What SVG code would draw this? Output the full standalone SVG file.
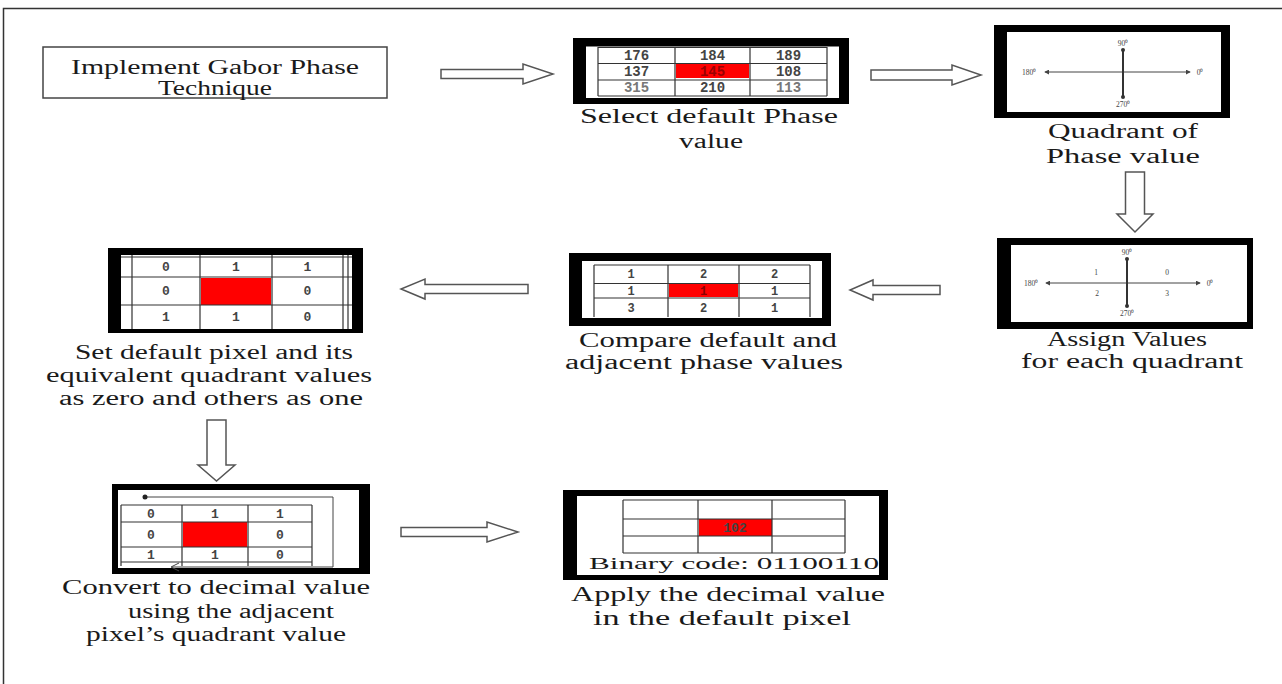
<svg xmlns="http://www.w3.org/2000/svg" width="1282" height="684" viewBox="0 0 1282 684">
<defs>
<style>
.blk{fill:#000}
.wht{fill:#fff}
.grid{stroke:#333;stroke-width:1.2;fill:none}
.lbl{font-family:"Liberation Serif",serif;font-size:20px;fill:#1a1a1a;text-anchor:middle}
.num{font-family:"Liberation Mono",monospace;font-weight:bold;font-size:13px;fill:#444;text-anchor:middle}
.arrow{fill:#fff;stroke:#555;stroke-width:1.5;stroke-linejoin:miter}
.ax{stroke:#444;stroke-width:1;fill:none}
.axv{stroke:#333;stroke-width:2;fill:none}
.axt{font-family:"Liberation Serif",serif;font-size:7.5px;fill:#444;text-anchor:middle}
.red{fill:#f00}
</style>
<marker id="ah" viewBox="0 0 6 6" refX="5" refY="3" markerWidth="5" markerHeight="5" orient="auto-start-reverse"><path d="M0,0 L6,3 L0,6 Z" fill="#444"/></marker>
<marker id="dot" viewBox="0 0 6 6" refX="3" refY="3" markerWidth="2" markerHeight="2"><circle cx="3" cy="3" r="3" fill="#333"/></marker>
</defs>
<rect width="1282" height="684" fill="#fff"/>
<path d="M3.5,684 L3.5,8.5 L1282,8.5" fill="none" stroke="#333" stroke-width="1.5"/>

<g id="connectors">
<path class="arrow" d="M441,69.5 L523,69.5 L523,64 L553,74 L523,84 L523,78.5 L441,78.5 Z"/>
<path class="arrow" d="M871,70 L952,70 L952,65 L981,75 L952,85 L952,80 L871,80 Z"/>
<path class="arrow" d="M1125.5,172 L1144.5,172 L1144.5,214 L1153,214 L1135,232 L1117,214 L1125.5,214 Z"/>
<path class="arrow" d="M940,285.5 L873,285.5 L873,280 L850,290 L873,300 L873,294.5 L940,294.5 Z"/>
<path class="arrow" d="M528,284.5 L425,284.5 L425,279 L401,289 L425,299 L425,293.5 L528,293.5 Z"/>
<path class="arrow" d="M207,420 L226,420 L226,465 L235,465 L216.5,481 L198,465 L207,465 Z"/>
<path class="arrow" d="M401,527.5 L487,527.5 L487,522 L518,532 L487,542 L487,536.5 L401,536.5 Z"/>
</g>

<g id="n1">
<rect x="43" y="47" width="344" height="51" fill="#fff" stroke="#444" stroke-width="1.5"/>
<text class="lbl" x="215" y="74" textLength="288" lengthAdjust="spacingAndGlyphs">Implement Gabor Phase</text>
<text class="lbl" x="215" y="95" textLength="114" lengthAdjust="spacingAndGlyphs">Technique</text>
</g>

<g id="n2">
<rect class="blk" x="573" y="38" width="276" height="66"/>
<rect class="wht" x="586" y="46.5" width="253" height="51.5"/>
<rect class="red" x="676" y="64" width="73" height="14"/>
<path class="grid" d="M598,47.5H827M598,63.5H827M598,80H827M598,96H827M598,47V96M675,47V96M750,47V96M827,47V96"/>
<g class="num" style="font-size:14px">
<text x="636.5" y="60">176</text><text x="712.5" y="60">184</text><text x="788.5" y="60">189</text>
<text x="636.5" y="76">137</text><text x="712.5" y="76" fill="#900">145</text><text x="788.5" y="76">108</text>
<text x="636.5" y="92" fill="#777">315</text><text x="712.5" y="92">210</text><text x="788.5" y="92" fill="#777">113</text>
</g>
<text class="lbl" x="709" y="123" textLength="258" lengthAdjust="spacingAndGlyphs">Select default Phase</text>
<text class="lbl" x="711" y="148" textLength="64" lengthAdjust="spacingAndGlyphs">value</text>
</g>

<g id="n3">
<rect class="blk" x="994" y="25" width="236" height="93"/>
<rect class="wht" x="1007" y="32" width="214" height="80"/>
<line class="ax" x1="1045" y1="72" x2="1190" y2="72" marker-start="url(#ah)" marker-end="url(#ah)"/>
<line class="axv" x1="1123" y1="50" x2="1123" y2="97" marker-start="url(#dot)" marker-end="url(#dot)"/>
<text class="axt" x="1123" y="46">90⁰</text>
<text class="axt" x="1029" y="74.5">180⁰</text>
<text class="axt" x="1200" y="74.5">0⁰</text>
<text class="axt" x="1123" y="107">270⁰</text>
<text class="lbl" x="1123" y="138" textLength="150" lengthAdjust="spacingAndGlyphs">Quadrant of</text>
<text class="lbl" x="1123" y="163" textLength="154" lengthAdjust="spacingAndGlyphs">Phase value</text>
</g>

<g id="n4">
<rect class="blk" x="997" y="238" width="256" height="91"/>
<rect class="wht" x="1011" y="245" width="236" height="77"/>
<line class="ax" x1="1046" y1="283" x2="1200" y2="283" marker-start="url(#ah)" marker-end="url(#ah)"/>
<line class="axv" x1="1127" y1="259" x2="1127" y2="306" marker-start="url(#dot)" marker-end="url(#dot)"/>
<text class="axt" x="1127" y="255">90⁰</text>
<text class="axt" x="1031" y="285.5">180⁰</text>
<text class="axt" x="1210" y="285.5">0⁰</text>
<text class="axt" x="1127" y="316">270⁰</text>
<text class="axt" x="1096" y="274.5">1</text>
<text class="axt" x="1167" y="274.5">0</text>
<text class="axt" x="1097" y="295.5">2</text>
<text class="axt" x="1167" y="295.5">3</text>
<text class="lbl" x="1127" y="346" textLength="160" lengthAdjust="spacingAndGlyphs">Assign Values</text>
<text class="lbl" x="1132" y="368" textLength="222" lengthAdjust="spacingAndGlyphs">for each quadrant</text>
</g>

<g id="n5">
<rect class="blk" x="569" y="253" width="262" height="73"/>
<rect class="wht" x="582" y="261" width="240" height="57"/>
<rect class="red" x="669" y="284" width="69" height="13"/>
<path class="grid" d="M594,265H810M594,283.5H810M594,298H810M594,265V317M668,265V317M739,265V317M810,265V317"/>
<g class="num" style="font-size:12px">
<text x="631" y="278">1</text><text x="703.5" y="278">2</text><text x="774.5" y="278">2</text>
<text x="631" y="295">1</text><text x="703.5" y="295" fill="#800">1</text><text x="774.5" y="295">1</text>
<text x="631" y="312">3</text><text x="703.5" y="312">2</text><text x="774.5" y="312">1</text>
</g>
<text class="lbl" x="708" y="347" textLength="258" lengthAdjust="spacingAndGlyphs">Compare default and</text>
<text class="lbl" x="704" y="369" textLength="278" lengthAdjust="spacingAndGlyphs">adjacent phase values</text>
</g>

<g id="n6">
<rect class="blk" x="108" y="248" width="255" height="85"/>
<rect class="wht" x="121" y="255" width="231" height="74"/>
<rect class="red" x="201" y="278" width="70" height="27"/>
<path class="grid" d="M121,257H352M121,277H352M121,305H352M132,255V329M200,255V329M272,255V329M343,255V329M348,255V329"/>
<g class="num">
<text x="166" y="271">0</text><text x="236" y="271">1</text><text x="307.5" y="271">1</text>
<text x="166" y="295">0</text><text x="307.5" y="295">0</text>
<text x="166" y="321">1</text><text x="236" y="321">1</text><text x="307.5" y="321">0</text>
</g>
<text class="lbl" x="214" y="359" textLength="278" lengthAdjust="spacingAndGlyphs">Set default pixel and its</text>
<text class="lbl" x="209" y="382" textLength="326" lengthAdjust="spacingAndGlyphs">equivalent quadrant values</text>
<text class="lbl" x="211" y="405" textLength="304" lengthAdjust="spacingAndGlyphs">as zero and others as one</text>
</g>

<g id="n7">
<rect class="blk" x="112" y="484" width="258" height="90"/>
<rect class="wht" x="118" y="490" width="241" height="78"/>
<rect class="red" x="183" y="522" width="64" height="25"/>
<path class="grid" d="M121,505H312M121,522H312M121,547H312M121,562H312M121,505V566M182,505V566M248,505V566M312,505V566"/>
<path d="M145,497H333V567H172" fill="none" stroke="#444" stroke-width="1"/>
<circle cx="145" cy="497" r="2.5" fill="#222"/>
<path d="M179,563 L171,567 L179,571" fill="none" stroke="#444" stroke-width="1"/>
<g class="num">
<text x="151" y="518">0</text><text x="215" y="518">1</text><text x="280" y="518">1</text>
<text x="151" y="539">0</text><text x="280" y="539">0</text>
<text x="151" y="559">1</text><text x="215" y="559">1</text><text x="280" y="559">0</text>
</g>
<text class="lbl" x="216" y="594" textLength="308" lengthAdjust="spacingAndGlyphs">Convert to decimal value</text>
<text class="lbl" x="231" y="618" textLength="206" lengthAdjust="spacingAndGlyphs">using the adjacent</text>
<text class="lbl" x="216" y="641" textLength="260" lengthAdjust="spacingAndGlyphs">pixel’s quadrant value</text>
</g>

<g id="n8">
<rect class="blk" x="563" y="490" width="325" height="90"/>
<rect class="wht" x="577" y="496" width="302" height="79"/>
<rect class="red" x="699" y="519" width="73" height="17"/>
<path class="grid" d="M623,500H845M623,519H845M623,536H845M623,553H845M623,500V553M698,500V553M772,500V553M845,500V553"/>
<text class="num" x="735" y="532" fill="#900">102</text>
<text class="lbl" x="734" y="569" textLength="290" lengthAdjust="spacingAndGlyphs" style="font-size:17px">Binary code: 01100110</text>
<text class="lbl" x="728" y="601" textLength="314" lengthAdjust="spacingAndGlyphs">Apply the decimal value</text>
<text class="lbl" x="722" y="625" textLength="258" lengthAdjust="spacingAndGlyphs">in the default pixel</text>
</g>
</svg>
